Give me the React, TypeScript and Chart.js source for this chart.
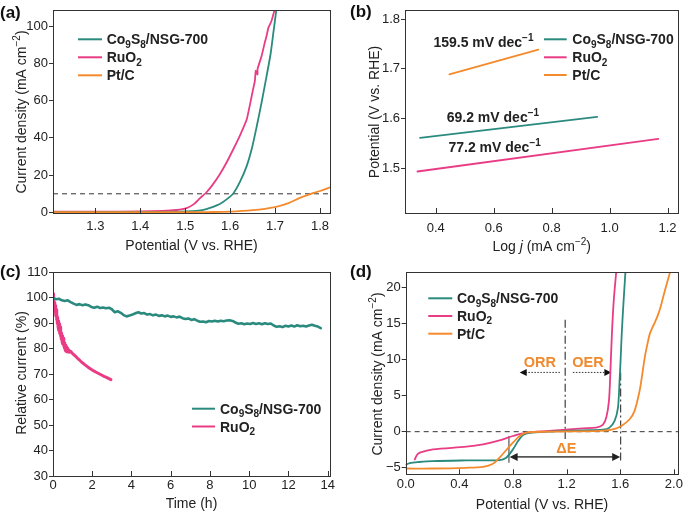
import React, { useEffect, useRef } from 'react';
import { Chart, registerables } from 'chart.js';
Chart.register(...registerables);

const FONT = '"Liberation Sans", Arial, Helvetica, sans-serif';
const TEAL = '#2b8a7e';
const PINK = '#e93c85';
const ORANGE = '#f58a2c';
const INK = '#222222';
const ANNO = '#f08a2e';
const FRAME = '#333333';

type P = [number, number];
type Seg = [string, string];

// ---------- (a) OER polarization ----------
const A_X_TICKS = [1.3, 1.4, 1.5, 1.6, 1.7, 1.8];
const A_Y_TICKS = [0, 20, 40, 60, 80, 100];
const A_REF_J = 10;
const A_CO: P[] = [[1.205, 0.2], [1.45, 0.3], [1.5, 0.5], [1.53, 1.0], [1.547, 1.8], [1.562, 3.0], [1.577, 4.5], [1.592, 7.0], [1.607, 10.2], [1.622, 16.5], [1.637, 25], [1.648, 34], [1.659, 46], [1.67, 59], [1.681, 73], [1.69, 85], [1.696, 96], [1.703, 109]];
const A_RU: P[] = [[1.205, 0.4], [1.3, 0.4], [1.4, 0.5], [1.45, 0.8], [1.48, 1.3], [1.503, 2.3], [1.52, 4.6], [1.533, 7.7], [1.547, 10.7], [1.562, 15.2], [1.577, 20.5], [1.592, 26.8], [1.607, 33.9], [1.622, 41.4], [1.637, 50], [1.645, 58.9], [1.651, 66], [1.655, 70.4], [1.657, 76], [1.661, 74], [1.661, 77], [1.67, 83.9], [1.677, 91], [1.681, 94.6], [1.685, 99], [1.692, 102.7], [1.697, 107], [1.70, 110]];
const A_PT: P[] = [[1.205, 0.1], [1.5, 0.1], [1.55, 0.2], [1.6, 0.4], [1.65, 1.2], [1.7, 2.9], [1.73, 5.0], [1.755, 7.8], [1.78, 10.0], [1.8, 11.5], [1.822, 13.4]];

// ---------- (b) Tafel ----------
const B_X_TICKS = [0.4, 0.6, 0.8, 1.0, 1.2];
const B_Y_TICKS = [1.5, 1.6, 1.7, 1.8];
const B_CO: P[] = [[0.346, 1.561], [0.957, 1.603]];
const B_RU: P[] = [[0.337, 1.493], [1.168, 1.559]];
const B_PT: P[] = [[0.447, 1.689], [0.754, 1.739]];
const B_SLOPES = ['159.5', '69.2', '77.2'];
const B_SLOPE_AT: P[] = [[0.392, 1.755], [0.438, 1.603], [0.444, 1.542]];

// ---------- (c) stability ----------
const C_X_TICKS = [0, 2, 4, 6, 8, 10, 12, 14];
const C_Y_TICKS = [30, 40, 50, 60, 70, 80, 90, 100, 110];
const C_CO: P[] = [[0, 99.8], [0.15, 99.3], [0.3, 99.5], [0.45, 98.9], [0.6, 98.6], [0.75, 98.9], [0.9, 98.2], [1.05, 97.6], [1.2, 97.1], [1.35, 97.4], [1.5, 97.0], [1.65, 97.3], [1.8, 97.0], [1.95, 96.3], [2.1, 96.0], [2.25, 96.4], [2.4, 95.9], [2.55, 96.1], [2.7, 95.8], [2.85, 96.0], [3.0, 95.4], [3.15, 94.2], [3.3, 94.6], [3.45, 94.0], [3.6, 93.1], [3.75, 92.6], [3.9, 92.9], [4.05, 93.3], [4.2, 93.8], [4.35, 94.2], [4.5, 93.7], [4.65, 93.9], [4.8, 93.3], [4.95, 93.5], [5.1, 93.0], [5.25, 93.3], [5.4, 92.8], [5.55, 93.0], [5.7, 92.6], [5.85, 92.9], [6.0, 92.4], [6.15, 92.6], [6.3, 92.2], [6.45, 92.5], [6.6, 91.9], [6.75, 91.6], [6.9, 91.8], [7.05, 91.2], [7.2, 91.5], [7.35, 90.9], [7.5, 90.5], [7.65, 90.6], [7.8, 90.3], [7.95, 90.8], [8.1, 90.6], [8.25, 90.9], [8.4, 90.6], [8.55, 90.9], [8.7, 90.7], [8.85, 91.0], [9.0, 91.1], [9.15, 90.8], [9.3, 90.2], [9.45, 89.7], [9.6, 89.9], [9.75, 89.5], [9.9, 89.8], [10.05, 89.6], [10.2, 90.0], [10.35, 89.6], [10.5, 89.9], [10.65, 89.5], [10.8, 89.9], [10.95, 89.6], [11.1, 89.8], [11.25, 89.0], [11.4, 88.5], [11.55, 88.7], [11.7, 88.4], [11.85, 88.9], [12.0, 88.6], [12.15, 89.0], [12.3, 88.6], [12.45, 89.1], [12.6, 88.7], [12.75, 88.9], [12.9, 88.6], [13.05, 89.0], [13.2, 89.3], [13.35, 88.9], [13.5, 88.6], [13.65, 88.0]];
const C_RU: P[] = [[0, 101.5], [0.02, 98.5], [0.04, 99.5], [0.06, 96.5], [0.08, 98], [0.1, 94.5], [0.12, 96.8], [0.14, 92.8], [0.16, 95.2], [0.18, 91.3], [0.2, 93.8], [0.22, 89.8], [0.24, 92.2], [0.26, 88.4], [0.28, 90.8], [0.3, 87.2], [0.32, 89.6], [0.34, 86], [0.36, 88.4], [0.38, 84.8], [0.4, 87.2], [0.42, 83.8], [0.44, 86], [0.46, 82.8], [0.48, 85], [0.5, 81.9], [0.52, 84], [0.54, 81], [0.56, 83.1], [0.58, 80.2], [0.6, 82.2], [0.62, 79.5], [0.64, 81.4], [0.66, 79], [0.68, 80.7], [0.7, 78.7], [0.72, 80.1], [0.75, 78.6], [0.8, 79.5], [0.85, 78.5], [0.9, 78.9], [1.0, 78.0], [1.1, 77.3], [1.2, 76.6], [1.3, 75.8], [1.4, 75.1], [1.5, 74.4], [1.6, 73.8], [1.7, 73.2], [1.8, 72.6], [1.9, 72.1], [2.0, 71.6], [2.1, 71.1], [2.2, 70.7], [2.3, 70.3], [2.4, 69.9], [2.5, 69.5], [2.6, 69.1], [2.7, 68.8], [2.8, 68.4], [2.9, 68.0], [2.95, 67.8]];

// ---------- (d) bifunctional ----------
const D_X_TICKS = [0.0, 0.4, 0.8, 1.2, 1.6, 2.0];
const D_Y_TICKS = [-5, 0, 5, 10, 15, 20];
const D_CO: P[] = [[0, -4.6], [0.03, -4.35], [0.1, -4.2], [0.2, -4.07], [0.45, -3.98], [0.7, -3.93], [0.75, -3.6], [0.8, -2.45], [0.838, -1.3], [0.875, -0.46], [0.925, -0.15], [1.07, 0.0], [1.32, 0.19], [1.47, 0.28], [1.52, 0.56], [1.558, 1.5], [1.583, 3.3], [1.595, 7.0], [1.603, 10], [1.61, 13], [1.62, 16.5], [1.63, 19.5], [1.64, 22.5]];
const D_RU: P[] = [[0.068, -3.84], [0.085, -3.2], [0.105, -2.9], [0.204, -2.45], [0.453, -2.08], [0.577, -1.75], [0.7, -1.2], [0.8, -0.6], [0.9, -0.14], [1.07, 0.1], [1.32, 0.47], [1.42, 0.56], [1.47, 0.93], [1.496, 1.95], [1.516, 4.26], [1.526, 7.97], [1.538, 13.5], [1.552, 18.2], [1.572, 22.5]];
const D_PT: P[] = [[0, -5.1], [0.2, -5.1], [0.45, -5.0], [0.577, -4.86], [0.651, -4.44], [0.7, -3.6], [0.75, -2.54], [0.8, -1.53], [0.85, -0.6], [0.9, -0.14], [1.07, 0.0], [1.446, 0.1], [1.545, 0.33], [1.608, 0.79], [1.67, 1.72], [1.707, 2.88], [1.744, 5.6], [1.765, 8.0], [1.785, 10.5], [1.805, 12.3], [1.82, 13.5], [1.84, 14.4], [1.86, 15.2], [1.88, 16.1], [1.9, 17.2], [1.92, 18.6], [1.94, 20.0], [1.96, 21.3], [1.98, 22.6]];
const D_MID_V = 1.19;
const D_MID_SPAN: P = [-1.0, 15.5];
const D_OER_V = 1.603;
const D_OER_SPAN: P = [-4.07, 8.2];
const D_ORR_V = 0.77;
const D_ORR_SPAN: P = [-4.3, -0.6];
const D_DE_Y = -3.5;
const D_DE_SPAN: P = [0.775, 1.6];
const D_ARROW_Y = 8.2;
const D_ORR_ARROW: P = [1.15, 0.85];
const D_OER_ARROW: P = [1.247, 1.534];
const D_TEXTS: { t: string; x: number; y: number }[] = [
  { t: 'ORR', x: 1.0, y: 9.7 },
  { t: 'OER', x: 1.36, y: 9.7 },
  { t: 'ΔE', x: 1.198, y: -2.3 },
];

// ---------- labels ----------
const LBL_CO: Seg[] = [['Co', ''], ['9', 'sub'], ['S', ''], ['8', 'sub'], ['/NSG-700', '']];
const LBL_RU: Seg[] = [['RuO', ''], ['2', 'sub']];
const LBL_PT: Seg[] = [['Pt/C', '']];
const T_CURRENT: Seg[] = [['Current density (mA cm', ''], ['−2', 'sup'], [')', '']];
const T_POT: Seg[] = [['Potential (V vs. RHE)', '']];
const T_LOGJ: Seg[] = [['Log ', ''], ['j', 'i'], [' (mA cm', ''], ['−2', 'sup'], [')', '']];
const T_REL: Seg[] = [['Relative current (%)', '']];
const T_TIME: Seg[] = [['Time (h)', '']];

function drawRich(ctx: CanvasRenderingContext2D, segs: Seg[], x: number, y: number, size: number, bold: boolean, color: string, align: string = 'left') {
  const f = (k: string) => `${k === 'i' ? 'italic ' : ''}${bold ? 'bold ' : ''}${k === 'sub' || k === 'sup' ? Math.round(size * 0.7) : size}px ${FONT}`;
  let total = 0;
  for (const [t, k] of segs) { ctx.font = f(k); total += ctx.measureText(t).width; }
  let cx = align === 'center' ? x - total / 2 : x;
  ctx.save();
  ctx.fillStyle = color;
  ctx.textBaseline = 'alphabetic';
  ctx.textAlign = 'left';
  for (const [t, k] of segs) {
    ctx.font = f(k);
    const dy = k === 'sub' ? size * 0.24 : k === 'sup' ? -size * 0.42 : 0;
    ctx.fillText(t, cx, y + dy);
    cx += ctx.measureText(t).width;
  }
  ctx.restore();
}

function arrowHead(ctx: CanvasRenderingContext2D, px: number, py: number, dir: number, len = 7, half = 3.5) {
  ctx.beginPath();
  ctx.moveTo(px, py);
  ctx.lineTo(px - dir * len, py - half);
  ctx.lineTo(px - dir * len, py + half);
  ctx.closePath();
  ctx.fill();
}

interface Spec {
  ox: number; oy: number; W: number; H: number;
  area: [number, number, number, number];
  xr: P; yr: P; xt: number[]; yt: number[]; xpad: number;
  xf: (v: number) => string; yf: (v: number) => string;
  series: { data: P[]; color: string; width: number; tension: number }[];
  xTitle: { segs: Seg[]; cx: number; cy: number };
  yTitle: { segs: Seg[]; cx: number; cy: number };
  legend: { x1: number; x2: number; tx: number; rows: { y: number; color: string; segs: Seg[] }[] };
  label: { t: string; x: number; y: number };
  under?: (ctx: CanvasRenderingContext2D, X: (v: number) => number, Y: (v: number) => number, area: any) => void;
  over?: (ctx: CanvasRenderingContext2D, X: (v: number) => number, Y: (v: number) => number, area: any) => void;
}

function makeConfig(p: Spec): any {
  const L = p.area[0] - p.ox, T = p.area[1] - p.oy, R = p.area[2] - p.ox, B = p.area[3] - p.oy;
  const tickFont = { family: FONT, size: 13 };
  const deco = {
    id: 'deco',
    beforeDatasetsDraw(chart: any) {
      if (!p.under) return;
      const ctx = chart.ctx; const xs = chart.scales.x; const ys = chart.scales.y;
      ctx.save();
      p.under(ctx, (v) => xs.getPixelForValue(v), (v) => ys.getPixelForValue(v), chart.chartArea);
      ctx.restore();
    },
    afterDraw(chart: any) {
      const ctx: CanvasRenderingContext2D = chart.ctx; const a = chart.chartArea;
      const xs = chart.scales.x; const ys = chart.scales.y;
      ctx.save();
      if (p.over) p.over(ctx, (v) => xs.getPixelForValue(v), (v) => ys.getPixelForValue(v), a);
      ctx.strokeStyle = FRAME; ctx.lineWidth = 1; ctx.setLineDash([]);
      ctx.strokeRect(Math.round(a.left) + 0.5, Math.round(a.top) + 0.5, Math.round(a.right - a.left), Math.round(a.bottom - a.top));
      ctx.beginPath();
      for (const v of p.xt) {
        const px = Math.round(xs.getPixelForValue(v)) + 0.5;
        ctx.moveTo(px, a.bottom); ctx.lineTo(px, a.bottom - 5);
      }
      ctx.stroke();
      drawRich(ctx, p.xTitle.segs, p.xTitle.cx - p.ox, p.xTitle.cy - p.oy + 5, 14, false, INK, 'center');
      ctx.save();
      ctx.translate(p.yTitle.cx - p.ox, p.yTitle.cy - p.oy);
      ctx.rotate(-Math.PI / 2);
      drawRich(ctx, p.yTitle.segs, 0, 5, 14, false, INK, 'center');
      ctx.restore();
      for (const r of p.legend.rows) {
        ctx.strokeStyle = r.color; ctx.lineWidth = 2;
        ctx.beginPath();
        ctx.moveTo(p.legend.x1 - p.ox, r.y - p.oy); ctx.lineTo(p.legend.x2 - p.ox, r.y - p.oy);
        ctx.stroke();
        drawRich(ctx, r.segs, p.legend.tx - p.ox, r.y - p.oy + 5, 14, true, INK);
      }
      drawRich(ctx, [[p.label.t, '']], p.label.x - p.ox, p.label.y - p.oy, 17, true, '#111');
      ctx.restore();
    },
  };
  return {
    type: 'line',
    data: {
      datasets: p.series.map((s) => ({
        data: s.data.map(([x, y]) => ({ x, y })),
        borderColor: s.color, borderWidth: s.width, pointRadius: 0, tension: s.tension, fill: false,
        borderJoinStyle: 'round', borderCapStyle: 'round',
      })),
    },
    options: {
      responsive: false, maintainAspectRatio: false, animation: false, events: [],
      layout: { padding: { left: 0, top: T, right: p.W - R, bottom: 0 } },
      plugins: { legend: { display: false }, tooltip: { enabled: false }, title: { display: false } },
      scales: {
        x: {
          type: 'linear', min: p.xr[0], max: p.xr[1],
          afterBuildTicks: (s: any) => { s.ticks = p.xt.map((v) => ({ value: v })); },
          afterFit: (s: any) => { s.height = p.H - B; s.paddingLeft = 0; s.paddingRight = 0; },
          grid: { display: false, drawTicks: false }, border: { display: false },
          ticks: { padding: p.xpad, color: INK, font: tickFont, maxRotation: 0, autoSkip: false, callback: (v: number) => p.xf(v) },
          title: { display: false },
        },
        y: {
          type: 'linear', min: p.yr[0], max: p.yr[1],
          afterBuildTicks: (s: any) => { s.ticks = p.yt.map((v) => ({ value: v })); },
          afterFit: (s: any) => { s.width = L; s.paddingTop = 0; s.paddingBottom = 0; },
          grid: { display: true, drawOnChartArea: false, drawTicks: true, tickLength: 4, color: FRAME, lineWidth: 1 },
          border: { display: false },
          ticks: { padding: 1, color: INK, font: tickFont, autoSkip: false, callback: (v: number) => p.yf(v) },
          title: { display: false },
        },
      },
    },
    plugins: [deco],
  };
}

const f1 = (v: number) => v.toFixed(1);
const f0 = (v: number) => (v < 0 ? '−' + Math.abs(v).toFixed(0) : v.toFixed(0));

const SPECS: Spec[] = [
  {
    ox: 0, oy: 0, W: 342, H: 256, area: [53, 10, 330, 213],
    xr: [1.2056, 1.8223], yr: [-0.3, 108.6], xt: A_X_TICKS, yt: A_Y_TICKS, xpad: 6, xf: f1, yf: f0,
    series: [
      { data: A_PT, color: ORANGE, width: 1.8, tension: 0.3 },
      { data: A_CO, color: TEAL, width: 1.8, tension: 0.25 },
      { data: A_RU, color: PINK, width: 1.8, tension: 0.12 },
    ],
    xTitle: { segs: T_POT, cx: 191.5, cy: 245 },
    yTitle: { segs: T_CURRENT, cx: 20.7, cy: 112 },
    legend: { x1: 78, x2: 102, tx: 106.7, rows: [
      { y: 39.3, color: TEAL, segs: LBL_CO }, { y: 57.3, color: PINK, segs: LBL_RU }, { y: 75.3, color: ORANGE, segs: LBL_PT }] },
    label: { t: '(a)', x: 0, y: 18 },
    under: (ctx, X, Y, a) => {
      ctx.strokeStyle = '#333'; ctx.lineWidth = 1; ctx.setLineDash([5, 4]);
      ctx.beginPath(); ctx.moveTo(a.left, Y(A_REF_J)); ctx.lineTo(a.right, Y(A_REF_J)); ctx.stroke();
      ctx.setLineDash([]);
    },
  },
  {
    ox: 342, oy: 0, W: 343, H: 256, area: [405, 10, 678, 213],
    xr: [0.294, 1.236], yr: [1.4093, 1.8188], xt: B_X_TICKS, yt: B_Y_TICKS, xpad: 8, xf: f1, yf: f1,
    series: [
      { data: B_CO, color: TEAL, width: 1.8, tension: 0 },
      { data: B_RU, color: PINK, width: 1.8, tension: 0 },
      { data: B_PT, color: ORANGE, width: 1.8, tension: 0 },
    ],
    xTitle: { segs: T_LOGJ, cx: 541.7, cy: 245.7 },
    yTitle: { segs: T_POT, cx: 374, cy: 112 },
    legend: { x1: 544, x2: 566.7, tx: 572.3, rows: [
      { y: 39.3, color: TEAL, segs: LBL_CO }, { y: 57.3, color: PINK, segs: LBL_RU }, { y: 75, color: ORANGE, segs: LBL_PT }] },
    label: { t: '(b)', x: 350, y: 17 },
    over: (ctx, X, Y) => {
      B_SLOPES.forEach((s, i) => {
        drawRich(ctx, [[s + ' mV dec', ''], ['−1', 'sup']], X(B_SLOPE_AT[i][0]), Y(B_SLOPE_AT[i][1]) + 5, 14, true, INK);
      });
    },
  },
  {
    ox: 0, oy: 256, W: 342, H: 257, area: [53, 272, 330, 476],
    xr: [0, 14.12], yr: [30, 110], xt: C_X_TICKS, yt: C_Y_TICKS, xpad: 2, xf: f0, yf: f0,
    series: [
      { data: C_CO, color: TEAL, width: 2.6, tension: 0 },
      { data: C_RU, color: PINK, width: 3, tension: 0 },
    ],
    xTitle: { segs: T_TIME, cx: 191.5, cy: 503.3 },
    yTitle: { segs: T_REL, cx: 20.7, cy: 373 },
    legend: { x1: 192, x2: 215, tx: 220, rows: [
      { y: 408.7, color: TEAL, segs: LBL_CO }, { y: 426.5, color: PINK, segs: LBL_RU }] },
    label: { t: '(c)', x: 0, y: 277 },
  },
  {
    ox: 342, oy: 256, W: 343, H: 257, area: [405.7, 272, 678, 474.3],
    xr: [0, 2.031], yr: [-5.9, 22.1], xt: D_X_TICKS, yt: D_Y_TICKS, xpad: 2, xf: f1, yf: f0,
    series: [
      { data: D_PT, color: ORANGE, width: 1.8, tension: 0.3 },
      { data: D_CO, color: TEAL, width: 1.8, tension: 0.3 },
      { data: D_RU, color: PINK, width: 1.8, tension: 0.3 },
    ],
    xTitle: { segs: T_POT, cx: 542, cy: 504.3 },
    yTitle: { segs: T_CURRENT, cx: 376.7, cy: 374 },
    legend: { x1: 428.3, x2: 452.3, tx: 457, rows: [
      { y: 298.3, color: TEAL, segs: LBL_CO }, { y: 316, color: PINK, segs: LBL_RU }, { y: 333.7, color: ORANGE, segs: LBL_PT }] },
    label: { t: '(d)', x: 350, y: 277 },
    under: (ctx, X, Y, a) => {
      ctx.strokeStyle = '#333'; ctx.lineWidth = 1; ctx.setLineDash([5, 4]);
      ctx.beginPath(); ctx.moveTo(a.left, Y(0)); ctx.lineTo(a.right, Y(0)); ctx.stroke();
      ctx.strokeStyle = '#666'; ctx.lineWidth = 1.5; ctx.setLineDash([8, 3, 2, 3]);
      ctx.beginPath(); ctx.moveTo(X(D_MID_V), Y(D_MID_SPAN[1])); ctx.lineTo(X(D_MID_V), Y(D_MID_SPAN[0])); ctx.stroke();
      ctx.strokeStyle = '#444'; ctx.lineWidth = 1.2;
      ctx.beginPath(); ctx.moveTo(X(D_OER_V), Y(D_OER_SPAN[1])); ctx.lineTo(X(D_OER_V), Y(D_OER_SPAN[0])); ctx.stroke();
      ctx.setLineDash([]);
      ctx.strokeStyle = '#555'; ctx.lineWidth = 1.2;
      ctx.beginPath(); ctx.moveTo(X(D_ORR_V), Y(D_ORR_SPAN[1])); ctx.lineTo(X(D_ORR_V), Y(D_ORR_SPAN[0])); ctx.stroke();
      ctx.strokeStyle = '#555'; ctx.fillStyle = '#222'; ctx.lineWidth = 1.8;
      const dy = Y(D_DE_Y);
      ctx.beginPath(); ctx.moveTo(X(D_DE_SPAN[0]) + 4, dy); ctx.lineTo(X(D_DE_SPAN[1]) - 4, dy); ctx.stroke();
      arrowHead(ctx, X(D_DE_SPAN[0]), dy, -1, 8, 4);
      arrowHead(ctx, X(D_DE_SPAN[1]), dy, 1, 8, 4);
      const ay = Y(D_ARROW_Y);
      ctx.strokeStyle = '#333'; ctx.lineWidth = 1; ctx.setLineDash([1.5, 1.5]);
      ctx.beginPath(); ctx.moveTo(X(D_ORR_ARROW[0]), ay); ctx.lineTo(X(D_ORR_ARROW[1]) + 5, ay); ctx.stroke();
      ctx.beginPath(); ctx.moveTo(X(D_OER_ARROW[0]), ay); ctx.lineTo(X(D_OER_ARROW[1]) - 5, ay); ctx.stroke();
      ctx.setLineDash([]);
      ctx.fillStyle = '#111';
      arrowHead(ctx, X(D_ORR_ARROW[1]), ay, -1, 7, 3.5);
      arrowHead(ctx, X(D_OER_ARROW[1]), ay, 1, 7, 3.5);
    },
    over: (ctx, X, Y) => {
      for (const t of D_TEXTS) drawRich(ctx, [[t.t, '']], X(t.x), Y(t.y) + 5, 14.5, true, ANNO, 'center');
    },
  },
];

function ChartPanel({ spec }: { spec: Spec }) {
  const ref = useRef<HTMLCanvasElement>(null);
  useEffect(() => {
    const c = new Chart(ref.current as HTMLCanvasElement, makeConfig(spec));
    return () => c.destroy();
  }, [spec]);
  return (
    <canvas ref={ref} width={spec.W} height={spec.H}
      style={{ position: 'absolute', left: spec.ox, top: spec.oy, width: spec.W, height: spec.H, display: 'block' }} />
  );
}

export default function App() {
  return (
    <div style={{ position: 'absolute', left: 0, top: 0, width: 685, height: 513, background: '#fff', overflow: 'hidden' }}>
      {SPECS.map((s, i) => <ChartPanel key={i} spec={s} />)}
    </div>
  );
}
